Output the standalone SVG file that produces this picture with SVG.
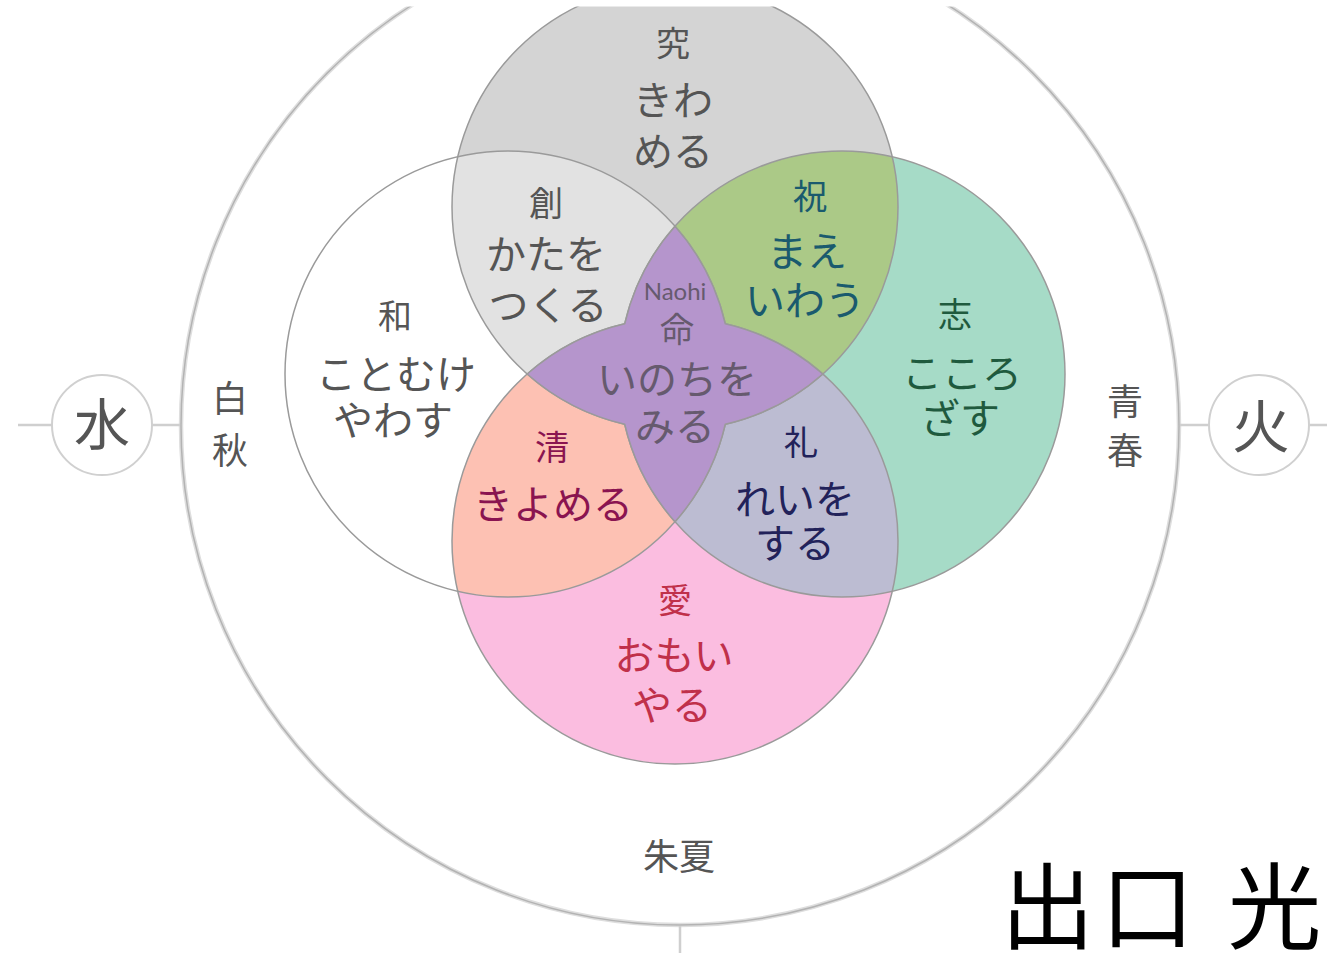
<svg xmlns="http://www.w3.org/2000/svg" width="1327" height="953" viewBox="0 0 1327 953">
<style>
text{font-family:"Noto Sans CJK JP","Noto Sans CJK SC",sans-serif;text-anchor:middle}
.k{font-size:34px}
.h{font-size:40px}
.circ{stroke:#9a9a9a;stroke-width:1.5;fill:none}
.line{stroke:#cfcfcf;stroke-width:2.5;fill:none}
.g{fill:#555}
.c{fill:#665a6e}
</style>
<rect x="0" y="0" width="1327" height="953" fill="#fff"/>
<g id="outer-circle">
<circle cx="680" cy="426" r="499" fill="none" stroke="#dedede" stroke-width="4.5"/>
<circle cx="680" cy="426" r="499" fill="none" stroke="#b3b3b3" stroke-width="1.5"/>
</g>
<g id="connectors">
<line class="line" x1="18" y1="425" x2="52" y2="425"/>
<line class="line" x1="152" y1="425" x2="180" y2="425"/>
<line class="line" x1="1180" y1="425" x2="1208" y2="425"/>
<line class="line" x1="1310" y1="425" x2="1327" y2="425"/>
<line class="line" x1="680" y1="926" x2="680" y2="953" stroke-width="3"/>
</g>
<g id="circles">
<circle cx="675" cy="207" r="223" fill="#d4d4d4"/>
<circle cx="508" cy="374" r="223" fill="#ffffff"/>
<circle cx="842" cy="374" r="223" fill="#a6dbc7"/>
<circle cx="675" cy="541" r="223" fill="#fbbde0"/>
<path d="M457.74,156.74 A223,223 0 0 1 725.26,424.26 A223,223 0 0 1 457.74,156.74 Z" fill="#e2e2e2"/>
<path d="M892.26,156.74 A223,223 0 0 0 624.74,424.26 A223,223 0 0 0 892.26,156.74 Z" fill="#abc987"/>
<path d="M457.74,591.26 A223,223 0 0 0 725.26,323.74 A223,223 0 0 0 457.74,591.26 Z" fill="#fdc1b3"/>
<path d="M892.26,591.26 A223,223 0 0 1 624.74,323.74 A223,223 0 0 1 892.26,591.26 Z" fill="#bcbcd2"/>
<circle class="circ" cx="675" cy="207" r="223"/>
<circle class="circ" cx="508" cy="374" r="223"/>
<circle class="circ" cx="842" cy="374" r="223"/>
<circle class="circ" cx="675" cy="541" r="223"/>
<path d="M675,226.2 A223,223 0 0 0 624.74,323.74 A223,223 0 0 0 527.2,374 A223,223 0 0 0 624.74,424.26 A223,223 0 0 0 675,521.8 A223,223 0 0 0 725.26,424.26 A223,223 0 0 0 822.8,374 A223,223 0 0 0 725.26,323.74 A223,223 0 0 0 675,226.2 Z" fill="#b595cc" stroke="#9a9a9a" stroke-width="1.5"/>
</g>
<rect x="0" y="0" width="1327" height="6.5" fill="#fff"/>
<g id="node-kiwameru" class="g">
<text class="k" x="673" y="56">究</text>
<text class="h" x="673" y="115">きわ</text>
<text class="h" x="673" y="166">める</text>
</g>
<g id="node-katawotsukuru" class="g">
<text class="k" x="546" y="216">創</text>
<text class="h" x="546" y="269">かたを</text>
<text class="h" x="548" y="320">つくる</text>
</g>
<g id="node-maeiwau" fill="#1a5a6e">
<text class="k" x="810" y="209">祝</text>
<text class="h" x="807" y="266">まえ</text>
<text class="h" x="805" y="315">いわう</text>
</g>
<g id="node-kotomukeyawasu" class="g">
<text class="k" x="395" y="329">和</text>
<text class="h" x="396" y="389">ことむけ</text>
<text class="h" x="393" y="435">やわす</text>
</g>
<g id="node-kokorozasu" fill="#1f5a3e">
<text class="k" x="955" y="327">志</text>
<text class="h" x="962" y="388">こころ</text>
<text class="h" x="960" y="433">ざす</text>
</g>
<g id="node-inochiwomiru" class="c">
<text x="675" y="300" style="font-family:Lato,'Noto Sans',sans-serif;font-size:24px">Naohi</text>
<text class="k" x="677" y="342">命</text>
<text class="h" x="677" y="394">いのちを</text>
<text class="h" x="675" y="441">みる</text>
</g>
<g id="node-kiyomeru" fill="#8a1450">
<text class="k" x="552" y="460">清</text>
<text class="h" x="553" y="519">きよめる</text>
</g>
<g id="node-reiwosuru" fill="#22225a">
<text class="k" x="801" y="455">礼</text>
<text class="h" x="795" y="514">れいを</text>
<text class="h" x="795" y="558">する</text>
</g>
<g id="node-omoiyaru" fill="#c0304a">
<text class="k" x="675" y="613">愛</text>
<text class="h" x="674" y="670">おもい</text>
<text class="h" x="672" y="720">やる</text>
</g>
<g id="node-hakushu" class="g" style="font-size:36px">
<text x="230" y="412">白</text>
<text x="230" y="464">秋</text>
</g>
<g id="node-seishun" class="g" style="font-size:36px">
<text x="1125" y="415">青</text>
<text x="1125" y="464">春</text>
</g>
<g id="node-shuka" class="g" style="font-size:36px">
<text x="679" y="870">朱夏</text>
</g>
<g id="node-mizu">
<circle cx="102" cy="425" r="50" fill="#fff" stroke="#d0d0d0" stroke-width="2"/>
<text x="102" y="445" style="font-size:56px" fill="#555">水</text>
</g>
<g id="node-hi">
<circle cx="1259" cy="425" r="50" fill="#fff" stroke="#d0d0d0" stroke-width="2"/>
<text x="1261" y="448" style="font-size:58px" fill="#555">火</text>
</g>
<g id="author">
<text x="1164" y="942" style="font-size:94px;letter-spacing:6px" fill="#000">出口 光</text>
</g>
</svg>
